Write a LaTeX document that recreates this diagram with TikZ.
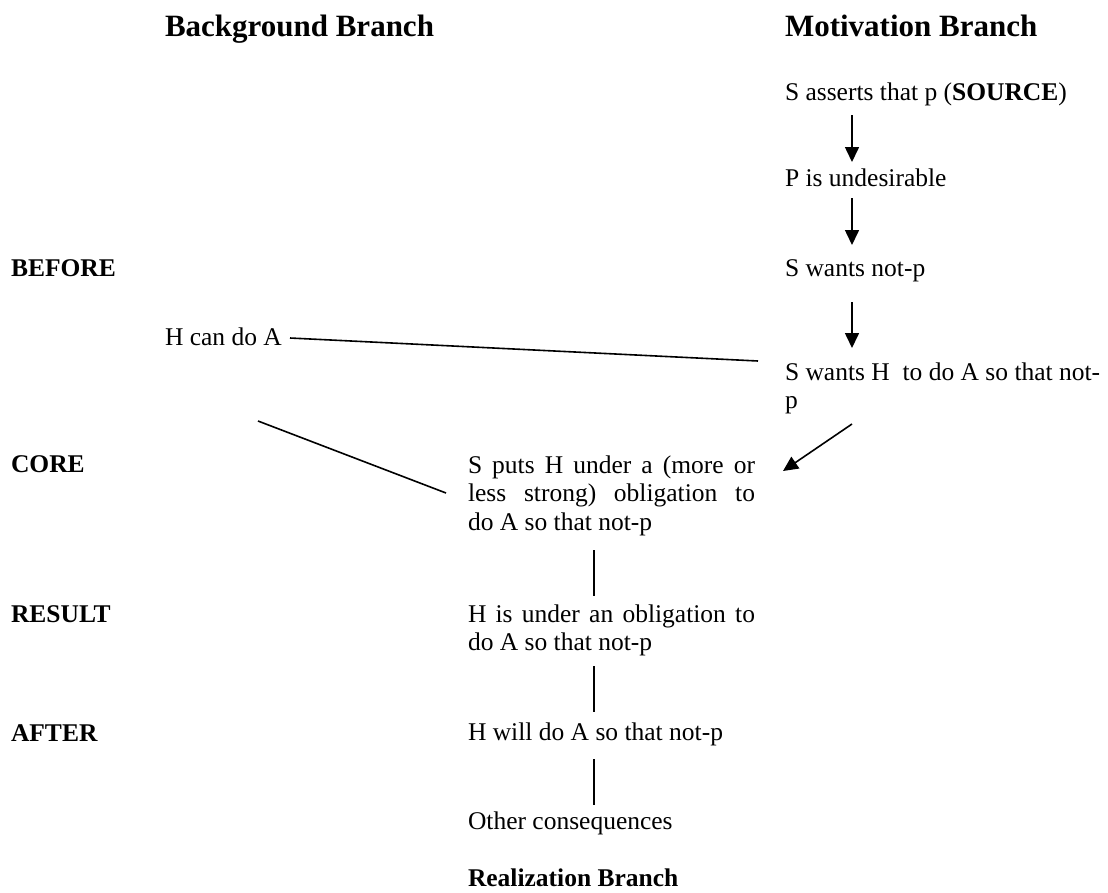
\documentclass[tikz,border=0pt]{standalone}
\usepackage{fontspec}
\setmainfont{Liberation Serif}
\usetikzlibrary{arrows.meta}
\newcommand{\bodyfont}{\fontsize{25.5}{28.5}\selectfont}
\newcommand{\headfont}{\fontsize{31}{36}\selectfont\bfseries}
\tikzset{
  txt/.style={anchor=base west, inner sep=0pt, outer sep=0pt, font=\bodyfont},
  head/.style={anchor=base west, inner sep=0pt, outer sep=0pt, font=\headfont},
  lbl/.style={anchor=base west, inner sep=0pt, outer sep=0pt, font=\bodyfont\bfseries},
  arr/.style={line width=1.6pt, -{Triangle[length=15pt,width=14pt]}},
  link/.style={line width=1.6pt},
  bar/.style={line width=2.2pt}
}
\begin{document}
\begin{tikzpicture}[x=1pt,y=-1pt]
\useasboundingbox (0,0) rectangle (1108,892);
% headings
\node[head] (bgH) at (165,36) {Background Branch};
\node[head] (motH) at (785,36) {Motivation Branch};
\node[lbl] (real) at (468,886) {Realization Branch};
% phase labels
\node[lbl] (before) at (11,276) {BEFORE};
\node[lbl] (core) at (11,472) {CORE};
\node[lbl] (result) at (11,622) {RESULT};
\node[lbl] (after) at (11,741) {AFTER};
% motivation branch
\node[txt] (src) at (785,100) {S asserts that p (\textbf{SOURCE})};
\node[txt] (undes) at (785,186) {P is undesirable};
\node[txt] (wants) at (785,276) {S wants not-p};
\node[txt] (wantsH) at (785,380) {\begin{tabular}[t]{@{}l@{}}S wants H\ \ to do A so that not-\\p\end{tabular}};
% background branch
\node[txt] (hcan) at (165,345) {H can do A};
% realization branch
\node[txt] (puts) at (468,473) {\begin{tabular}[t]{@{}l@{}}\makebox[287pt][s]{S puts H under a (more or}\\\makebox[287pt][s]{less strong) obligation to}\\do A so that not-p\end{tabular}};
\node[txt] (oblig) at (468,622) {\begin{tabular}[t]{@{}l@{}}\makebox[287pt][s]{H is under an obligation to}\\do A so that not-p\end{tabular}};
\node[txt] (will) at (468,740) {H will do A so that not-p};
\node[txt] (other) at (468,829) {Other consequences};
% connector end points
\coordinate (a1s) at (852,115); \coordinate (a1e) at (852,162);
\coordinate (a2s) at (852,198); \coordinate (a2e) at (852,245);
\coordinate (a3s) at (852,302); \coordinate (a3e) at (852,348);
\coordinate (l1s) at (290,338); \coordinate (l1e) at (758,361);
\coordinate (a4s) at (852,424); \coordinate (a4e) at (783,471);
\coordinate (l2s) at (258,421); \coordinate (l2e) at (446,493);
\coordinate (v1s) at (594,550); \coordinate (v1e) at (594,596);
\coordinate (v2s) at (594,666); \coordinate (v2e) at (594,712);
\coordinate (v3s) at (594,759); \coordinate (v3e) at (594,805);
% connectors
\draw[arr] (a1s) -- (a1e);
\draw[arr] (a2s) -- (a2e);
\draw[arr] (a3s) -- (a3e);
\draw[arr] (a4s) -- (a4e);
\draw[link] (l1s) -- (l1e);
\draw[link] (l2s) -- (l2e);
\draw[bar] (v1s) -- (v1e);
\draw[bar] (v2s) -- (v2e);
\draw[bar] (v3s) -- (v3e);
\end{tikzpicture}
\end{document}
